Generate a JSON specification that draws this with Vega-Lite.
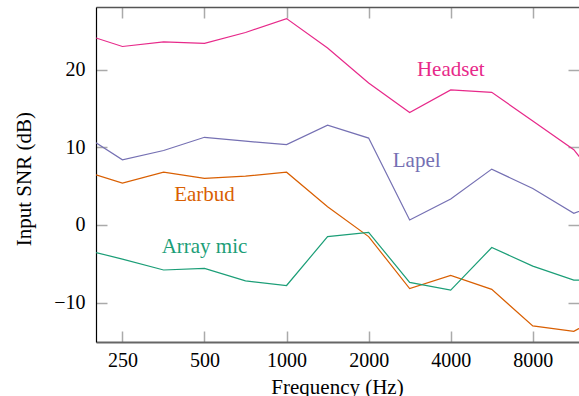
{
  "$schema": "https://vega.github.io/schema/vega-lite/v6.json",
  "width": 483,
  "height": 335,
  "autosize": {"type": "none"},
  "padding": {"left": 96, "top": 7, "right": 0, "bottom": 54},
  "config": {"view": {"stroke": null}, "font": "Liberation Serif"},
  "datasets": {
    "snr": [
      {"series": "Headset", "freq": 200, "snr": 24.1},
      {"series": "Headset", "freq": 250, "snr": 23.0},
      {"series": "Headset", "freq": 354, "snr": 23.6},
      {"series": "Headset", "freq": 500, "snr": 23.4},
      {"series": "Headset", "freq": 707, "snr": 24.8},
      {"series": "Headset", "freq": 1000, "snr": 26.6},
      {"series": "Headset", "freq": 1414, "snr": 22.8},
      {"series": "Headset", "freq": 2000, "snr": 18.3},
      {"series": "Headset", "freq": 2828, "snr": 14.5},
      {"series": "Headset", "freq": 4000, "snr": 17.4},
      {"series": "Headset", "freq": 5657, "snr": 17.1},
      {"series": "Headset", "freq": 8000, "snr": 13.4},
      {"series": "Headset", "freq": 11314, "snr": 9.7},
      {"series": "Headset", "freq": 16000, "snr": 3.0},
      {"series": "Lapel", "freq": 200, "snr": 10.6},
      {"series": "Lapel", "freq": 250, "snr": 8.4},
      {"series": "Lapel", "freq": 354, "snr": 9.6},
      {"series": "Lapel", "freq": 500, "snr": 11.3},
      {"series": "Lapel", "freq": 707, "snr": 10.8},
      {"series": "Lapel", "freq": 1000, "snr": 10.35},
      {"series": "Lapel", "freq": 1414, "snr": 12.85},
      {"series": "Lapel", "freq": 2000, "snr": 11.2},
      {"series": "Lapel", "freq": 2828, "snr": 0.65},
      {"series": "Lapel", "freq": 4000, "snr": 3.35},
      {"series": "Lapel", "freq": 5657, "snr": 7.2},
      {"series": "Lapel", "freq": 8000, "snr": 4.7},
      {"series": "Lapel", "freq": 11314, "snr": 1.5},
      {"series": "Lapel", "freq": 16000, "snr": 3.6},
      {"series": "Earbud", "freq": 200, "snr": 6.45},
      {"series": "Earbud", "freq": 250, "snr": 5.4},
      {"series": "Earbud", "freq": 354, "snr": 6.8},
      {"series": "Earbud", "freq": 500, "snr": 6.0},
      {"series": "Earbud", "freq": 707, "snr": 6.3},
      {"series": "Earbud", "freq": 1000, "snr": 6.8},
      {"series": "Earbud", "freq": 1414, "snr": 2.35},
      {"series": "Earbud", "freq": 2000, "snr": -1.5},
      {"series": "Earbud", "freq": 2828, "snr": -8.2},
      {"series": "Earbud", "freq": 4000, "snr": -6.5},
      {"series": "Earbud", "freq": 5657, "snr": -8.3},
      {"series": "Earbud", "freq": 8000, "snr": -13.0},
      {"series": "Earbud", "freq": 11314, "snr": -13.7},
      {"series": "Earbud", "freq": 16000, "snr": -10.8},
      {"series": "Array mic", "freq": 200, "snr": -3.55},
      {"series": "Array mic", "freq": 250, "snr": -4.4},
      {"series": "Array mic", "freq": 354, "snr": -5.8},
      {"series": "Array mic", "freq": 500, "snr": -5.6},
      {"series": "Array mic", "freq": 707, "snr": -7.2},
      {"series": "Array mic", "freq": 1000, "snr": -7.8},
      {"series": "Array mic", "freq": 1414, "snr": -1.5},
      {"series": "Array mic", "freq": 2000, "snr": -0.95},
      {"series": "Array mic", "freq": 2828, "snr": -7.4},
      {"series": "Array mic", "freq": 4000, "snr": -8.4},
      {"series": "Array mic", "freq": 5657, "snr": -2.9},
      {"series": "Array mic", "freq": 8000, "snr": -5.3},
      {"series": "Array mic", "freq": 11314, "snr": -7.1},
      {"series": "Array mic", "freq": 16000, "snr": -7.1}
    ],
    "labels": [
      {"series": "Headset", "freq": 4000, "snr": 20.0},
      {"series": "Lapel", "freq": 3000, "snr": 8.2},
      {"series": "Earbud", "freq": 500, "snr": 3.9},
      {"series": "Array mic", "freq": 500, "snr": -2.8}
    ]
  },
  "layer": [
    {
      "data": {"name": "snr"},
      "mark": {"type": "line", "clip": true, "strokeWidth": 1.2},
      "encoding": {
        "x": {
          "field": "freq", "type": "quantitative",
          "scale": {"type": "log", "domain": [200, 11820], "nice": false},
          "axis": {
            "orient": "bottom", "values": [250, 500, 1000, 2000, 4000, 8000], "format": "d",
            "tickSize": -11, "tickColor": "#aaaaaa", "tickWidth": 1.5,
            "labelPadding": 19, "labelFontSize": 20, "labelColor": "#000000", "labelFont": "Liberation Serif",
            "labelFlush": false, "labelOverlap": false,
            "domainColor": "#666666", "domainWidth": 2, "grid": false,
            "title": "Frequency (Hz)", "titleFontSize": 21, "titleFontWeight": "normal", "titleColor": "#000000",
            "titleFont": "Liberation Serif",
            "titleX": 241, "titleY": 51.3, "titleBaseline": "alphabetic", "titleAlign": "center"
          }
        },
        "y": {
          "field": "snr", "type": "quantitative",
          "scale": {"domain": [-15.08, 28.09], "nice": false, "zero": false},
          "axis": {
            "orient": "left", "values": [-10, 0, 10, 20], "format": "d",
            "tickSize": -11, "tickColor": "#aaaaaa", "tickWidth": 1.5,
            "labelPadding": 22, "labelFontSize": 20, "labelColor": "#000000", "labelFont": "Liberation Serif",
            "labelFlush": false, "labelOverlap": false,
            "domainColor": "#000000", "domainWidth": 1.2, "grid": false,
            "title": "Input SNR (dB)", "titleFontSize": 21, "titleFontWeight": "normal", "titleColor": "#000000",
            "titleFont": "Liberation Serif", "titleAngle": -90,
            "titleX": -66, "titleY": 171.7, "titleBaseline": "alphabetic", "titleAlign": "center"
          }
        },
        "color": {
          "field": "series", "type": "nominal",
          "scale": {"domain": ["Headset", "Lapel", "Earbud", "Array mic"], "range": ["#e7298a", "#7570b3", "#d95f02", "#1b9e77"]},
          "legend": null
        }
      }
    },
    {
      "data": {"name": "labels"},
      "mark": {"type": "text", "fontSize": 21, "baseline": "middle", "align": "center", "font": "Liberation Serif"},
      "encoding": {
        "x": {
          "field": "freq", "type": "quantitative",
          "axis": {
            "orient": "top", "values": [250, 500, 1000, 2000, 4000, 8000],
            "tickSize": -11, "tickColor": "#aaaaaa", "tickWidth": 1.5,
            "labels": false, "title": null, "grid": false,
            "domainColor": "#555555", "domainWidth": 1.3
          }
        },
        "y": {
          "field": "snr", "type": "quantitative",
          "axis": {
            "orient": "right", "values": [-10, 0, 10, 20],
            "tickSize": -11, "tickColor": "#aaaaaa", "tickWidth": 1.5,
            "labels": false, "title": null, "grid": false, "domain": false
          }
        },
        "text": {"field": "series"},
        "color": {"field": "series", "type": "nominal", "legend": null}
      }
    }
  ],
  "resolve": {"axis": {"x": "independent", "y": "independent"}}
}
